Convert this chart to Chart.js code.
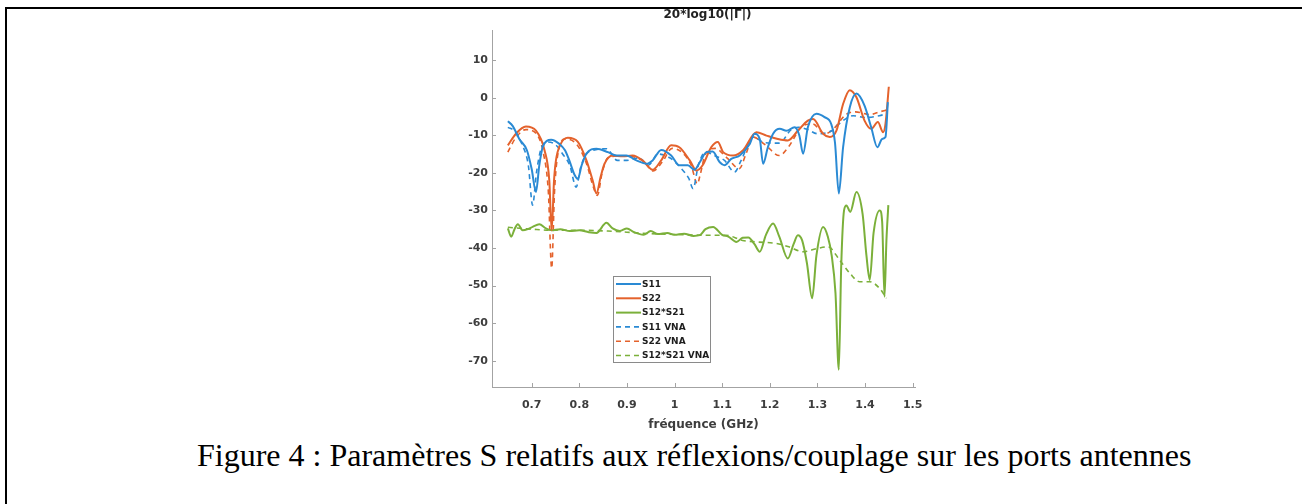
<!DOCTYPE html>
<html>
<head>
<meta charset="utf-8">
<script src="https://cdn.jsdelivr.net/npm/chart.js@4.4.1/dist/chart.umd.min.js"></script>
<style>
  html, body { margin: 0; padding: 0; background: #fff; }
  body { width: 1308px; height: 504px; position: relative; overflow: hidden; }
  .rule-top { position: absolute; left: 5px; top: 7px; width: 1297px; height: 2px; background: #000; }
  .rule-left { position: absolute; left: 5px; top: 7px; width: 2px; height: 497px; background: #000; }
  #plot { position: absolute; left: 447px; top: 9px; width: 496px; height: 425px; background: #fff; }
  .caption {
    position: absolute; left: 197px; top: 437px; white-space: nowrap;
    font-family: "Liberation Serif", "Times New Roman", serif; font-size: 32px; color: #000;
  }
</style>
</head>
<body>
<div class="rule-top"></div>
<div class="rule-left"></div>
<div id="plot"><canvas id="c" width="496" height="425"></canvas></div>
<div class="caption">Figure 4 : Paramètres S relatifs aux réflexions/couplage sur les ports antennes</div>

<script>
// Frequency (GHz) and magnitude (dB) of each trace
const s11Freq = [0.650,0.660,0.674,0.690,0.700,0.709,0.716,0.723,0.732,0.741,0.758,0.770,0.779,0.790,0.797,0.805,0.815,0.836,0.860,0.878,0.899,0.920,0.941,0.954,0.972,0.993,1.010,1.028,1.042,1.053,1.067,1.080,1.095,1.105,1.119,1.137,1.158,1.168,1.179,1.186,1.196,1.207,1.221,1.235,1.252,1.262,1.270,1.280,1.298,1.315,1.329,1.337,1.345,1.354,1.368,1.382,1.399,1.413,1.426,1.436,1.443,1.448];
const s11Db   = [-6.3,-7.5,-11,-14,-19,-25.1,-18,-13.2,-11.5,-11.2,-12.3,-14,-16.7,-20.5,-21.6,-18,-14.9,-13.6,-14.5,-15.4,-15.4,-16.7,-17.6,-16.7,-13.9,-15.4,-18,-18,-19.2,-17.2,-14.5,-14.3,-17.2,-18,-16.3,-15.4,-12.3,-9.6,-11,-17.6,-13.2,-9.6,-8.3,-8.8,-7.9,-10,-14.9,-7.9,-4.3,-5.2,-7,-12,-25.5,-13.2,-2.6,1.1,-2.1,-7.9,-13.2,-11,-10.5,-1.2];

const s22Freq = [0.650,0.667,0.688,0.709,0.727,0.737,0.742,0.747,0.751,0.761,0.776,0.797,0.815,0.828,0.836,0.845,0.853,0.870,0.891,0.912,0.933,0.954,0.972,0.993,1.010,1.032,1.046,1.059,1.077,1.091,1.102,1.123,1.144,1.172,1.193,1.217,1.238,1.259,1.280,1.291,1.312,1.326,1.340,1.354,1.368,1.382,1.399,1.413,1.427,1.438,1.443,1.450];
const s22Db   = [-12.7,-9.6,-7.7,-8.8,-14,-22,-35.3,-22,-16.7,-12.3,-10.7,-11.8,-16.7,-22,-25.5,-21,-17.6,-15.4,-15.6,-15.4,-16.7,-19.2,-16.7,-12.7,-13.2,-16.7,-19.4,-18,-13.2,-11.8,-14.5,-15.4,-14,-9.2,-10.1,-11,-11.4,-8.8,-6.1,-5.7,-9.6,-10.5,-8.8,-1.7,2,0.1,-6.1,-8.3,-6.5,-9.2,-7,2.9];

const s21Freq = [0.650,0.657,0.664,0.671,0.681,0.692,0.702,0.716,0.730,0.742,0.760,0.780,0.800,0.820,0.836,0.857,0.870,0.885,0.900,0.915,0.935,0.950,0.965,0.985,1.000,1.020,1.040,1.053,1.065,1.081,1.100,1.113,1.130,1.143,1.155,1.168,1.179,1.192,1.207,1.220,1.238,1.250,1.259,1.268,1.278,1.289,1.298,1.312,1.322,1.330,1.338,1.345,1.350,1.356,1.361,1.369,1.382,1.395,1.403,1.410,1.418,1.431,1.436,1.441,1.445,1.449];
const s21Db   = [-34.8,-37,-35,-33.7,-35.3,-35,-34.4,-33.7,-34.8,-35.3,-35,-35.5,-35.3,-35.8,-36,-33.3,-34.8,-35.5,-34.8,-35.8,-36.5,-35.5,-36.3,-36,-36.5,-36.2,-36.8,-36.6,-35,-34.4,-36.5,-37,-38.4,-37.3,-37.2,-39,-41,-36.5,-33.5,-37,-42.8,-39,-36.6,-38,-44,-53.4,-42,-34.4,-37,-42,-52,-72.4,-45,-30,-28.7,-30.4,-25.1,-31,-42,-48.5,-36,-30,-33,-53,-38,-28.6];

const s11VnaFreq = [0.650,0.665,0.680,0.693,0.702,0.710,0.720,0.734,0.750,0.765,0.780,0.7935,0.803,0.815,0.830,0.857,0.880,0.900,0.925,0.945,0.965,0.990,1.015,1.030,1.039,1.050,1.065,1.085,1.105,1.126,1.140,1.165,1.190,1.220,1.245,1.260,1.280,1.300,1.330,1.350,1.375,1.400,1.430,1.448];
const s11VnaDb   = [-7.9,-9,-12.5,-18,-28.6,-20,-13.5,-11.8,-12.5,-15,-18,-23.8,-18.5,-15,-14,-13.6,-16.7,-16.7,-16,-18,-15,-16,-19,-21.5,-24.2,-18,-14.5,-15.5,-16.7,-19.8,-16.7,-10.5,-12,-12.1,-8.5,-7.9,-8.5,-9.6,-8.8,-6.5,-4.8,-5.3,-4.8,-4.2];

const s22VnaFreq = [0.650,0.665,0.688,0.709,0.725,0.735,0.742,0.748,0.755,0.770,0.795,0.815,0.830,0.838,0.848,0.860,0.890,0.915,0.935,0.955,0.975,0.995,1.015,1.035,1.048,1.053,1.065,1.085,1.110,1.136,1.150,1.165,1.190,1.220,1.240,1.265,1.290,1.315,1.330,1.360,1.380,1.410,1.430,1.448];
const s22VnaDb   = [-14.5,-11,-8.5,-9.5,-15,-25,-45.4,-25,-15,-11,-12.5,-17.5,-24,-26,-20,-16,-15.5,-15.8,-17,-19.5,-17,-13.5,-14.5,-18,-23,-21,-15,-13.5,-16,-18.9,-15,-10.5,-12.5,-15.4,-13,-8,-7,-9.6,-8.8,-4.5,-3.8,-4.5,-3.8,-3.2];

const s21VnaFreq = [0.650,0.700,0.742,0.800,0.860,0.900,0.950,1.000,1.053,1.108,1.143,1.172,1.214,1.240,1.270,1.298,1.3225,1.3466,1.368,1.389,1.410,1.431,1.445];
const s21VnaDb   = [-34.5,-35,-35.3,-35.3,-35.5,-35.8,-36.2,-36.4,-36.6,-36.6,-38,-38.4,-38.8,-39.7,-41,-40.2,-39.7,-43.2,-46.7,-49,-49,-50.8,-53.4];

const seriesNames = ['S11', 'S22', 'S12*S21', 'S11 VNA', 'S22 VNA', 'S12*S21 VNA'];
const xTicks = [0.7, 0.8, 0.9, 1.0, 1.1, 1.2, 1.3, 1.4, 1.5];
const xTickLabels = ['0.7', '0.8', '0.9', '1', '1.1', '1.2', '1.3', '1.4', '1.5'];
const yTicks = [-70, -60, -50, -40, -30, -20, -10, 0, 10];
const yTickLabels = ['-70', '-60', '-50', '-40', '-30', '-20', '-10', '0', '10'];
const chartTitle = '20*log10(|Γ|)';
const xTitle = 'fréquence (GHz)';

const BLUE = '#2a8ad4', ORANGE = '#e4622c', GREEN = '#7bb03a';
const AXIS = '#a3a3a3', TEXT = '#3d3d3d';
const FONT = '"DejaVu Sans", sans-serif';

const pts = (f, v) => f.map((x, i) => ({ x, y: v[i] }));
const solid = (label, f, v, color) => ({
  label, data: pts(f, v), borderColor: color, borderWidth: 2, pointRadius: 0,
  cubicInterpolationMode: 'monotone', fill: false
});
const dashed = (label, f, v, color) => ({
  label, data: pts(f, v), borderColor: color, borderWidth: 1.6, borderDash: [5, 4], pointRadius: 0,
  cubicInterpolationMode: 'monotone', fill: false
});

const datasets = [
  solid(seriesNames[0], s11Freq, s11Db, BLUE),
  solid(seriesNames[1], s22Freq, s22Db, ORANGE),
  solid(seriesNames[2], s21Freq, s21Db, GREEN),
  dashed(seriesNames[3], s11VnaFreq, s11VnaDb, BLUE),
  dashed(seriesNames[4], s22VnaFreq, s22VnaDb, ORANGE),
  dashed(seriesNames[5], s21VnaFreq, s21VnaDb, GREEN)
];

// Inward tick marks, the title above the axes and the boxed legend
const decorations = {
  id: 'decorations',
  afterDatasetsDraw(chart) {
    const { ctx, chartArea: a, scales: { x, y } } = chart;
    ctx.save();
    ctx.strokeStyle = AXIS;
    ctx.lineWidth = 1;
    ctx.setLineDash([]);
    ctx.beginPath();
    xTicks.forEach(v => {
      const px = Math.round(x.getPixelForValue(v)) + 0.5;
      ctx.moveTo(px, a.bottom); ctx.lineTo(px, a.bottom - 4);
    });
    yTicks.forEach(v => {
      const py = Math.round(y.getPixelForValue(v)) + 0.5;
      ctx.moveTo(a.left, py); ctx.lineTo(a.left + 4, py);
    });
    ctx.stroke();

    // title
    ctx.fillStyle = '#222';
    ctx.font = 'bold 12px ' + FONT;
    ctx.textAlign = 'center';
    ctx.textBaseline = 'middle';
    ctx.fillText(chartTitle, (a.left + a.right) / 2 + 4, 6);

    // legend
    const lx = a.left + 121, ly = a.top + 246, lw = 97, lh = 86, row = 14.3;
    ctx.fillStyle = '#fff';
    ctx.fillRect(lx, ly, lw, lh);
    ctx.strokeStyle = '#8a8a8a';
    ctx.strokeRect(lx + 0.5, ly + 0.5, lw, lh);
    ctx.font = 'bold 9px ' + FONT;
    ctx.textAlign = 'left';
    chart.data.datasets.forEach((ds, i) => {
      const cy = ly + 8 + i * row;
      ctx.strokeStyle = ds.borderColor;
      ctx.lineWidth = ds.borderWidth;
      ctx.setLineDash(ds.borderDash || []);
      ctx.beginPath();
      ctx.moveTo(lx + 3, cy); ctx.lineTo(lx + 28, cy);
      ctx.stroke();
      ctx.fillStyle = '#1e1e1e';
      ctx.fillText(ds.label, lx + 29, cy + 0.5);
    });
    ctx.restore();
  }
};

new Chart(document.getElementById('c'), {
  type: 'line',
  data: { datasets },
  options: {
    responsive: false,
    animation: false,
    devicePixelRatio: 1,
    layout: { padding: { top: 21, right: 28, left: 0, bottom: 0 } },
    plugins: { legend: { display: false }, tooltip: { enabled: false }, title: { display: false } },
    scales: {
      x: {
        type: 'linear', min: 0.6167, max: 1.505,
        grid: { display: false, drawTicks: false },
        border: { display: true, color: AXIS, width: 1 },
        afterBuildTicks: s => { s.ticks = xTicks.map(v => ({ value: v })); },
        afterFit: s => { s.height = 47; },
        ticks: {
          autoSkip: false, maxRotation: 0, padding: 12, color: TEXT,
          font: { family: FONT, size: 11, weight: 'bold' },
          callback: (v, i) => xTickLabels[i]
        },
        title: {
          display: true, text: xTitle, color: TEXT, padding: { top: 0, bottom: 2 },
          font: { family: FONT, size: 12, weight: 'bold' }
        }
      },
      y: {
        type: 'linear', min: -77, max: 18,
        grid: { display: false, drawTicks: false },
        border: { display: true, color: AXIS, width: 1 },
        afterBuildTicks: s => { s.ticks = yTicks.map(v => ({ value: v })); },
        afterFit: s => { s.width = 45; },
        ticks: {
          autoSkip: false, padding: 4, color: TEXT,
          font: { family: FONT, size: 11, weight: 'bold' },
          callback: (v, i) => yTickLabels[i]
        }
      }
    }
  },
  plugins: [decorations]
});
</script>
</body>
</html>
